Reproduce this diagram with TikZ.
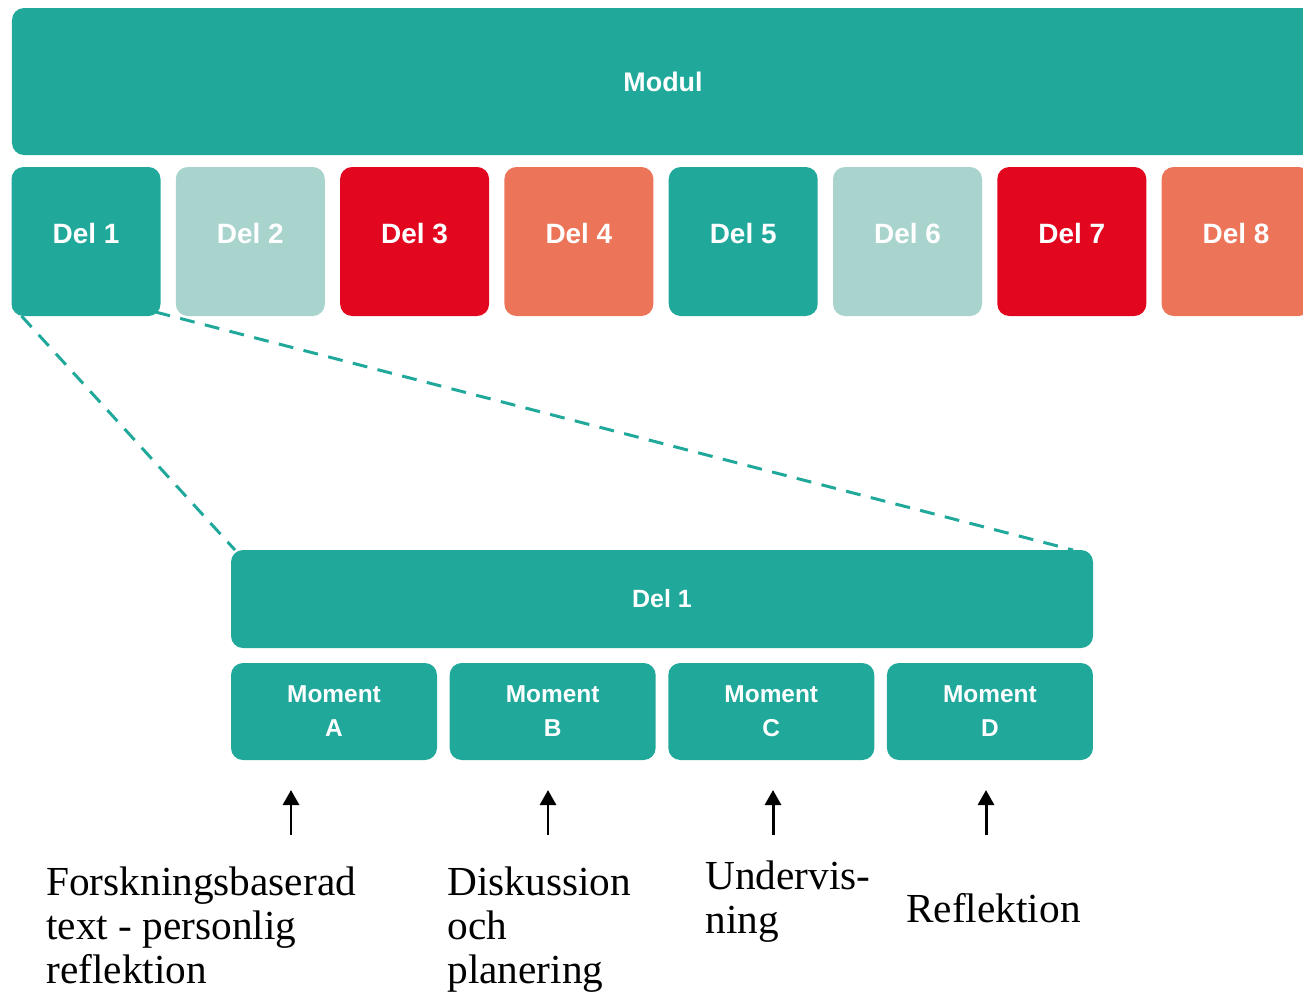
\documentclass[tikz,border=0pt]{standalone}
\usepackage{fontspec}
\setmainfont{Liberation Serif}
\setsansfont{Liberation Sans}
\usetikzlibrary{positioning, calc, arrows.meta}

\definecolor{turkos}{RGB}{32,169,155}
\definecolor{ljus}{RGB}{169,211,205}
\definecolor{rod}{RGB}{226,6,31}
\definecolor{lax}{RGB}{236,117,89}

\tikzset{
  box/.style = {rounded corners=0.24cm, inner sep=0pt, outer sep=0pt, text=white},
  delbox/.style = {box, minimum width=2.98cm, minimum height=2.98cm, text depth=0.32cm,
                   font=\sffamily\bfseries\fontsize{15.9}{18}\selectfont},
  momentbox/.style = {box, fill=turkos, minimum width=4.12cm, minimum height=1.94cm, align=center,
                      font=\sffamily\bfseries\fontsize{13.9}{19.3}\selectfont},
  beskr/.style = {anchor=base west, align=left, inner sep=0pt, font=\fontsize{23.5}{24.9}\selectfont},
  pil/.style = {-{Triangle[length=3mm,width=3.2mm]}, line width=1.7pt},
  zoomlinje/.style = {turkos, line width=1.7pt, dash pattern=on 8.5pt off 6pt}
}

\begin{document}
\begin{tikzpicture}
\useasboundingbox (0,0) rectangle (26.06,-19.88);
\clip (0,0) rectangle (26.06,-19.88);

% modul och delar
\node[box, fill=turkos, minimum width=26.04cm, minimum height=2.94cm,
      font=\sffamily\bfseries\fontsize{15.3}{18}\selectfont] (modul) at (13.26,-1.63) {Modul};
\node[delbox, fill=turkos] (d1) at (1.72,-4.83) {Del 1};
\node[delbox, fill=ljus, right=0.306cm of d1] (d2) {Del 2};
\node[delbox, fill=rod, right=0.306cm of d2] (d3) {Del 3};
\node[delbox, fill=lax, right=0.306cm of d3] (d4) {Del 4};
\node[delbox, fill=turkos, right=0.306cm of d4] (d5) {Del 5};
\node[delbox, fill=ljus, right=0.306cm of d5] (d6) {Del 6};
\node[delbox, fill=rod, right=0.306cm of d6] (d7) {Del 7};
\node[delbox, fill=lax, right=0.306cm of d7] (d8) {Del 8};

% del 1 uppdelad
\node[box, fill=turkos, minimum width=17.24cm, minimum height=1.96cm,
      font=\sffamily\bfseries\fontsize{14.2}{18}\selectfont] (del1bar) at (13.24,-11.98) {Del 1};
\node[momentbox] (momA) at (6.68,-14.23) {Moment\\A};
\node[momentbox, right=0.253cm of momA] (momB) {Moment\\B};
\node[momentbox, right=0.253cm of momB] (momC) {Moment\\C};
\node[momentbox, right=0.253cm of momC] (momD) {Moment\\D};

\draw[zoomlinje] ([xshift=0.2cm]d1.south west) -- ([xshift=0.08cm]del1bar.north west);
\draw[zoomlinje] ([xshift=-0.1cm,yshift=0.08cm]d1.south east) -- ([xshift=-0.4cm]del1bar.north east);

% pilar
\coordinate (pA) at (5.82,-16.7);
\coordinate (pB) at (10.96,-16.7);
\coordinate (pC) at (15.46,-16.7);
\coordinate (pD) at (19.72,-16.7);
\draw[pil] (pA) -- ($(pA |- momA.south)+(0,-0.6)$);
\draw[pil] (pB) -- ($(pB |- momB.south)+(0,-0.6)$);
\draw[pil] (pC) -- ($(pC |- momC.south)+(0,-0.6)$);
\draw[pil] (pD) -- ($(pD |- momD.south)+(0,-0.6)$);

% beskrivningar (base = sista raden)
\node[beskr] (txtA) at (0.92,-19.66) {Forskningsbaserad\\text - personlig\\reflektion};
\node[beskr] (txtB) at (8.94,-19.66) {Diskussion\\och\\planering};
\node[beskr] (txtC) at (14.1,-18.66) {Undervis-\\ning};
\node[beskr] (txtD) at (18.12,-18.44) {Reflektion};
\end{tikzpicture}
\end{document}
